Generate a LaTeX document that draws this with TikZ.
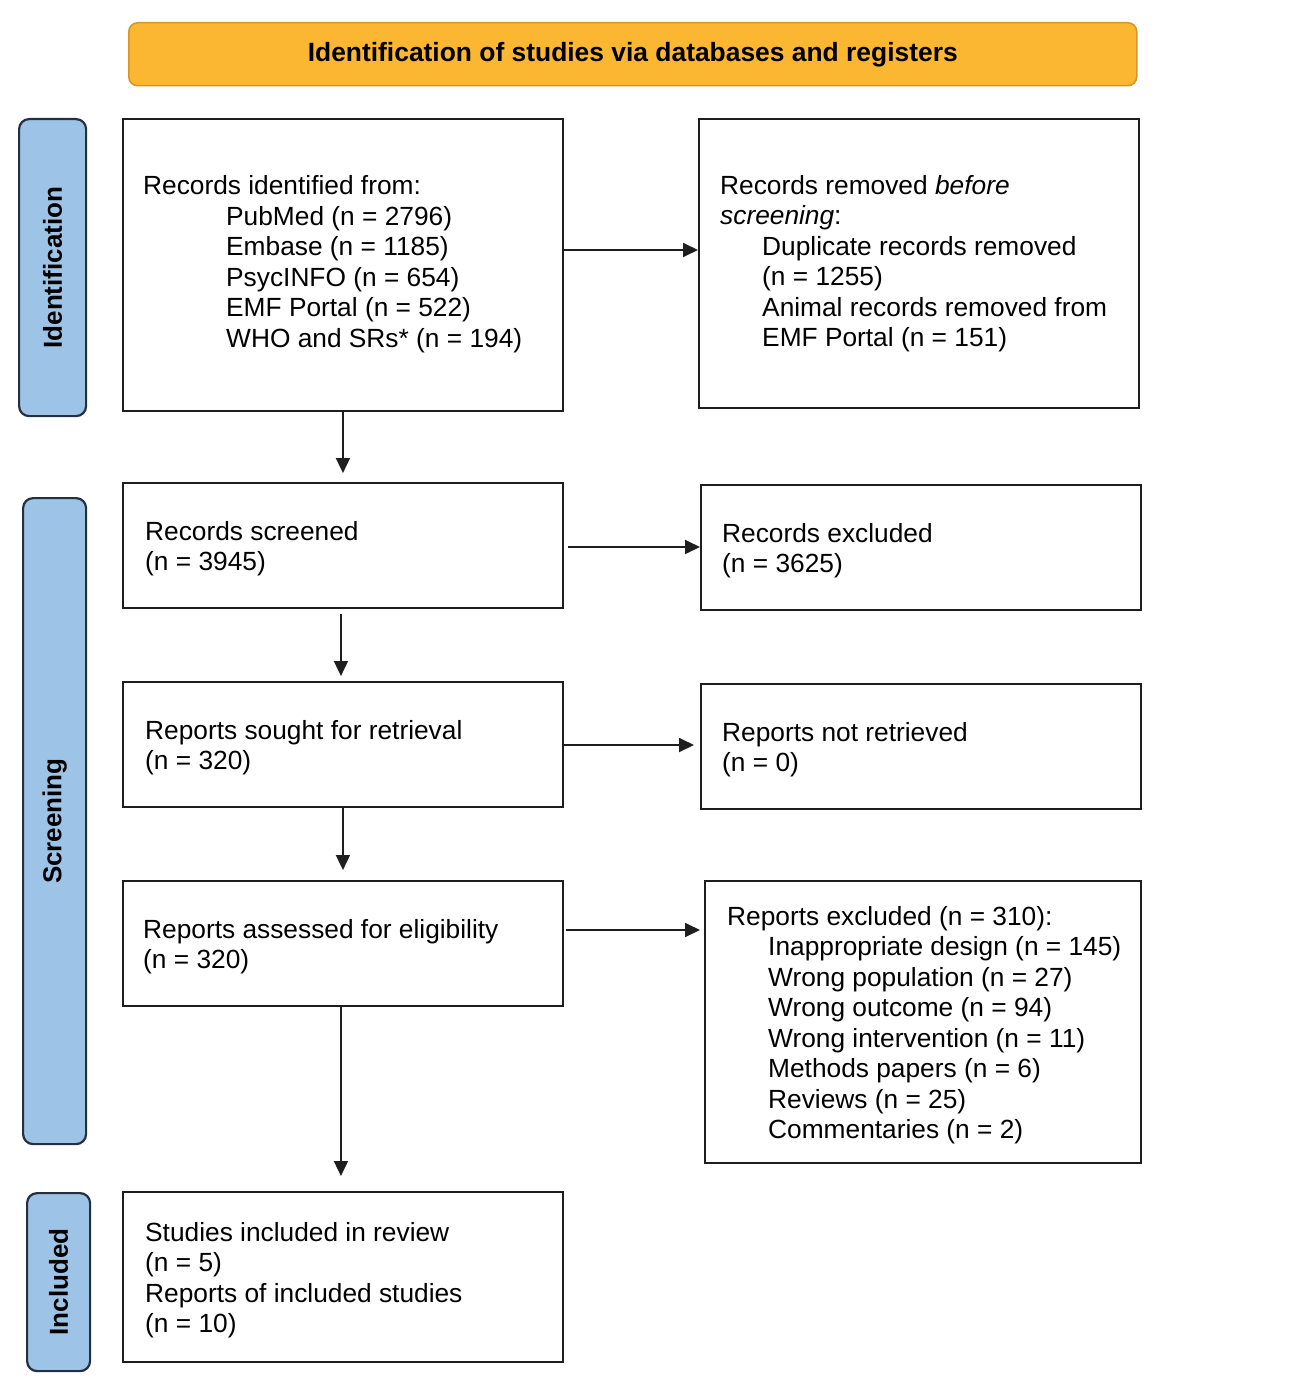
\documentclass[tikz,border=0pt]{standalone}
\usepackage{fontspec}
\setmainfont{Liberation Sans}
\usetikzlibrary{arrows.meta,calc}
\definecolor{hdrfill}{RGB}{251,183,50}
\definecolor{hdrdraw}{RGB}{212,150,40}
\definecolor{sidefill}{RGB}{157,195,230}
\definecolor{sidedraw}{RGB}{35,48,66}
\definecolor{boxdraw}{RGB}{30,30,30}
\begin{document}
\begin{tikzpicture}[x=1pt,y=-1pt,
  every node/.style={font=\fontsize{26.3}{30.5}\selectfont},
  flowbox/.style={draw=boxdraw, line width=1.9pt, anchor=north west, inner sep=0pt},
  boxtext/.style={anchor=west, align=left, inner sep=0pt, yshift=-3pt},
  sidebox/.style={draw=sidedraw, fill=sidefill, line width=2.2pt, rounded corners=10pt, anchor=north west, inner sep=0pt},
  sidetext/.style={rotate=90, font=\fontsize{26}{30}\selectfont\bfseries},
  hdrbox/.style={draw=hdrdraw, fill=hdrfill, line width=1.5pt, rounded corners=9pt, anchor=north west, inner sep=0pt, font=\fontsize{26.4}{30}\selectfont\bfseries},
  arr/.style={line width=1.8pt, draw=boxdraw, -{Triangle[length=15pt,width=14pt]}}
]
\useasboundingbox (0,0) rectangle (1300,1394);

% header
\node[hdrbox, minimum width=1008pt, minimum height=63pt] (hdr) at (128,22) {Identification of studies via databases and registers};

% side labels
\node[sidebox, minimum width=67pt, minimum height=297pt] (sideid) at (18,118) {};
\node[sidetext] (sideidtxt) at (sideid.center) {Identification};
\node[sidebox, minimum width=63pt, minimum height=646pt] (sidescr) at (22,497) {};
\node[sidetext] (sidescrtxt) at (sidescr.center) {Screening};
\node[sidebox, minimum width=63pt, minimum height=178pt] (sideinc) at (26,1192) {};
\node[sidetext] (sideinctxt) at (sideinc.center) {Included};

% boxes
\node[flowbox, minimum width=440pt, minimum height=292pt] (ident) at (122,118) {};
\node[boxtext] (identtxt) at ([xshift=21pt,yshift=4pt]ident.west) {Records identified from:\\
\hspace*{83pt}PubMed (n = 2796)\\
\hspace*{83pt}Embase (n = 1185)\\
\hspace*{83pt}PsycINFO (n = 654)\\
\hspace*{83pt}EMF Portal (n = 522)\\
\hspace*{83pt}WHO and SRs* (n = 194)};

\node[flowbox, minimum width=440pt, minimum height=289pt] (removed) at (698,118) {};
\node[boxtext] (removedtxt) at ([xshift=22pt,yshift=3pt]removed.west) {Records removed \textit{before}\\
\textit{screening}:\\
\hspace*{42pt}Duplicate records removed\\
\hspace*{42pt}(n = 1255)\\
\hspace*{42pt}Animal records removed from\\
\hspace*{42pt}EMF Portal (n = 151)};

\node[flowbox, minimum width=440pt, minimum height=125pt] (screened) at (122,482) {};
\node[boxtext] (screenedtxt) at ([xshift=23pt]screened.west) {Records screened\\(n = 3945)};

\node[flowbox, minimum width=440pt, minimum height=125pt] (excluded) at (700,484) {};
\node[boxtext] (excludedtxt) at ([xshift=22pt]excluded.west) {Records excluded\\(n = 3625)};

\node[flowbox, minimum width=440pt, minimum height=125pt] (sought) at (122,681) {};
\node[boxtext] (soughttxt) at ([xshift=23pt]sought.west) {Reports sought for retrieval\\(n = 320)};

\node[flowbox, minimum width=440pt, minimum height=125pt] (notretr) at (700,683) {};
\node[boxtext] (notretrtxt) at ([xshift=22pt]notretr.west) {Reports not retrieved\\(n = 0)};

\node[flowbox, minimum width=440pt, minimum height=125pt] (assessed) at (122,880) {};
\node[boxtext] (assessedtxt) at ([xshift=21pt]assessed.west) {Reports assessed for eligibility\\(n = 320)};

\node[flowbox, minimum width=436pt, minimum height=282pt] (repexcl) at (704,880) {};
\node[boxtext] (repexcltxt) at ([xshift=23pt]repexcl.west) {Reports excluded (n = 310):\\
\hspace*{41pt}Inappropriate design (n = 145)\\
\hspace*{41pt}Wrong population (n = 27)\\
\hspace*{41pt}Wrong outcome (n = 94)\\
\hspace*{41pt}Wrong intervention (n = 11)\\
\hspace*{41pt}Methods papers (n = 6)\\
\hspace*{41pt}Reviews (n = 25)\\
\hspace*{41pt}Commentaries (n = 2)};

\node[flowbox, minimum width=440pt, minimum height=170pt] (included) at (122,1191) {};
\node[boxtext] (includedtxt) at ([xshift=23pt]included.west) {Studies included in review\\(n = 5)\\Reports of included studies\\(n = 10)};

% helper coordinates
\coordinate (r1) at (0,250);
\coordinate (r2) at (0,547);
\coordinate (r3) at (0,745);
\coordinate (r4) at (0,930);

% connectors
\draw[arr] (ident.east |- r1) -- (removed.west |- r1);
\draw[arr, shorten <=4pt] (screened.east |- r2) -- (excluded.west |- r2);
\draw[arr, shorten >=6pt] (sought.east |- r3) -- (notretr.west |- r3);
\draw[arr, shorten <=2pt, shorten >=4pt] (assessed.east |- r4) -- (repexcl.west |- r4);

\draw[arr, shorten >=9pt] (ident.south) -- (screened.north);
\draw[arr, shorten <=5pt, shorten >=5pt] ([xshift=-2pt]screened.south) -- ([xshift=-2pt]sought.north);
\draw[arr, shorten >=10pt] (sought.south) -- (assessed.north);
\draw[arr, shorten >=15pt] ([xshift=-2pt]assessed.south) -- ([xshift=-2pt]included.north);
\end{tikzpicture}
\end{document}
